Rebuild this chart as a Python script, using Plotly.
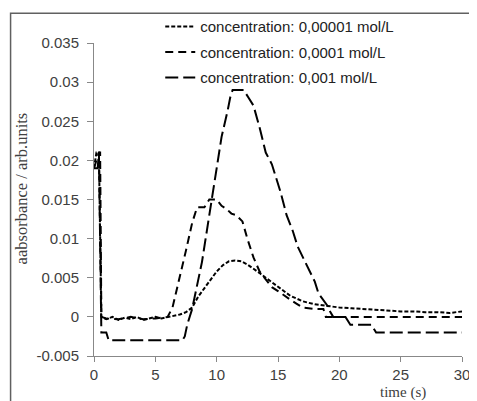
import plotly.graph_objects as go

# ---- data ----
names = ["concentration: 0,00001 mol/L",
         "concentration: 0,0001 mol/L",
         "concentration: 0,001 mol/L"]

t1 = [0, 0.2, 0.4, 0.5, 0.6, 1.0, 1.5, 2.0, 2.5, 3.0, 3.5, 4.0, 4.5, 5.0, 5.5,
      6.0, 6.5, 7.0, 7.5, 8.0, 8.5, 9.0, 9.5, 10.0, 10.5, 11.0, 11.5, 12.0, 12.5,
      13.0, 13.5, 14.0, 15.0, 16.0, 17.0, 18.0, 19.0, 20.0, 21.0, 22.0, 23.0,
      24.0, 25.0, 26.0, 27.0, 28.0, 29.0, 30.0]
v1 = [0.019, 0.021, 0.021, 0.010, 0.0, -0.0003, 0.0, -0.0004, -0.0001, -0.0003,
      0.0, -0.0004, -0.0002, 0.0, -0.0002, 0.0, 0.0001, 0.0003, 0.0006, 0.0012,
      0.0026, 0.0037, 0.0047, 0.0058, 0.0066, 0.0071, 0.0072, 0.0071, 0.0067,
      0.0062, 0.0056, 0.0050, 0.0038, 0.0027, 0.0020, 0.0016, 0.0014, 0.0012,
      0.0011, 0.0010, 0.0009, 0.0008, 0.0007, 0.0007, 0.0006, 0.0006, 0.0005, 0.0007]

t2 = [0, 0.4, 0.5, 0.6, 1.0, 2.0, 3.0, 4.0, 5.0, 6.0, 6.4, 7.0, 7.5, 8.0, 8.4,
      9.0, 9.4, 10.0, 10.4, 10.8, 11.2, 11.6, 12.1, 12.5, 13.0, 13.5, 14.0, 14.5,
      15.0, 15.5, 16.0, 16.5, 17.0, 18.0, 18.7, 18.9, 20.0, 25.0, 30.0]
v2 = [0.019, 0.021, 0.021, 0.0, -0.0002, -0.0003, 0.0, -0.0003, -0.0002, 0.0,
      0.0012, 0.0050, 0.0085, 0.0120, 0.0140, 0.0140, 0.0150, 0.0150, 0.0142,
      0.0138, 0.0132, 0.0130, 0.0122, 0.0100, 0.0076, 0.0058, 0.0048, 0.0038,
      0.0033, 0.0027, 0.0022, 0.0017, 0.0012, 0.0010, 0.0010, 0.0, 0.0, 0.0, 0.0]

t3 = [0, 0.3, 0.4, 0.5, 0.6, 1.0, 1.2, 2.0, 3.0, 4.0, 5.0, 6.0, 7.2, 7.4, 7.6,
      8.0, 8.4, 8.8, 9.2, 9.6, 10.0, 10.4, 10.9, 11.1, 11.3, 12.2, 12.6, 13.0,
      13.5, 14.0, 14.5, 15.2, 15.7, 16.2, 16.6, 17.2, 17.5, 18.0, 18.3, 19.0,
      19.2, 19.5, 20.5, 20.9, 22.6, 23.0, 25.0, 30.0]
v3 = [0.019, 0.019, 0.021, 0.010, -0.002, -0.002, -0.003, -0.003, -0.003, -0.003,
      -0.003, -0.003, -0.003, -0.0025, -0.001, 0.001, 0.004, 0.007, 0.011, 0.015,
      0.0187, 0.023, 0.0264, 0.028, 0.029, 0.029, 0.028, 0.027, 0.0242, 0.021,
      0.0195, 0.016, 0.013, 0.011, 0.009, 0.007, 0.006, 0.0045, 0.003, 0.0015,
      0.0008, 0.0, 0.0, -0.001, -0.001, -0.002, -0.002, -0.002]

ytickvals = [-0.005, 0, 0.005, 0.01, 0.015, 0.02, 0.025, 0.03, 0.035]
yticktext = ["-0.005", "0", "0.005", "0.01", "0.015", "0.02", "0.025", "0.03", "0.035"]
xtickvals = [0, 5, 10, 15, 20, 25, 30]
xticktext = ["0", "5", "10", "15", "20", "25", "30"]

series = [(t1, v1, "4px,2px"), (t2, v2, "8px,5px"), (t3, v3, "13px,5px")]

fig = go.Figure()
for i, (t, v, dash) in enumerate(series):
    fig.add_trace(go.Scatter(
        x=t, y=v, mode="lines", name=names[i], legendgroup=f"g{i}",
        line=dict(color="black", width=2, dash=dash),
    ))

axis_color = "#888888"
tick_font = dict(family="Liberation Sans, Arial, sans-serif", size=15, color="#404040")

# the page body adds an 8px margin, so the figure is 8px smaller on each side
fig.update_layout(
    width=469, height=393,
    margin=dict(l=86, r=15, t=35, b=45, autoexpand=False),
    paper_bgcolor="white", plot_bgcolor="white",
    showlegend=True,
    legend=dict(
        x=0.18, y=1.105, xanchor="left", yanchor="top",
        bgcolor="rgba(0,0,0,0)", borderwidth=0,
        font=dict(family="Liberation Sans, Arial, sans-serif", size=15, color="#222222"),
        tracegroupgap=3,
    ),
    xaxis=dict(
        range=[0, 30], tickvals=xtickvals, ticktext=xticktext,
        showline=True, linecolor=axis_color, linewidth=1,
        ticks="outside", ticklen=5, tickcolor=axis_color,
        showgrid=False, zeroline=False, tickfont=tick_font,
    ),
    yaxis=dict(
        range=[-0.005, 0.035], tickvals=ytickvals, ticktext=yticktext,
        showline=True, linecolor=axis_color, linewidth=1,
        ticks="outside", ticklen=6, tickcolor=axis_color,
        ticklabelstandoff=5,
        showgrid=False, zeroline=False, tickfont=tick_font,
    ),
    annotations=[
        dict(text="aabsorbance / arb.units", xref="paper", yref="paper",
             x=-0.196, y=0.535, xanchor="center", yanchor="middle", textangle=-90,
             showarrow=False,
             font=dict(family="Liberation Serif, DejaVu Serif, serif", size=16.5, color="#404040")),
        dict(text="time (s)", xref="paper", yref="paper",
             x=0.84, y=-0.118, xanchor="center", yanchor="middle",
             showarrow=False,
             font=dict(family="Liberation Serif, DejaVu Serif, serif", size=15, color="#404040")),
    ],
    shapes=[
        dict(type="rect", xref="paper", yref="paper",
             x0=-0.2267, y0=-0.2, x1=1.1, y1=1.095,
             line=dict(color="#606060", width=1.5), fillcolor="rgba(0,0,0,0)", layer="below"),
    ],
)

fig.write_html("out.html")
